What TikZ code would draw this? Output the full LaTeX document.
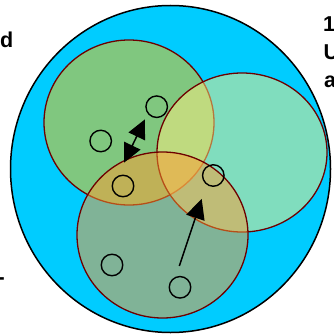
\documentclass[tikz,border=0pt]{standalone}
\usepackage{fontspec}
\setmainfont{Liberation Sans}
\usetikzlibrary{arrows.meta}
\definecolor{bgcyan}{HTML}{00CCFF}
\definecolor{fillA}{RGB}{255,196,0}
\definecolor{fillB}{RGB}{255,238,127}
\definecolor{fillC}{RGB}{255,156,49}
\definecolor{rim}{RGB}{110,0,0}
\begin{document}
\begin{tikzpicture}[x=1pt,y=-1pt,
  setcirc/.style={draw=rim, line width=1.3pt, fill opacity=0.5, draw opacity=1},
  elem/.style={circle, draw=black, line width=1.4pt, minimum size=21.5pt, inner sep=0pt},
  arr/.style={line width=1.5pt, draw=black},
  lbl/.style={font=\bfseries\fontsize{21.5}{26}\selectfont, inner sep=0pt}]
\useasboundingbox (0,0) rectangle (333,334);
\fill[white] (0,0) rectangle (333,334);
% universe
\draw[fill=bgcyan, line width=1.5pt] (170.5,169) ellipse [x radius=160, y radius=163.5];
% three sets
\draw[setcirc, fill=fillA] (129,122.5) ellipse [x radius=85, y radius=82.5];
\draw[setcirc, fill=fillB] (242,152.5) ellipse [x radius=85, y radius=79.5];
\draw[setcirc, fill=fillC] (162.5,235) ellipse [x radius=85.5, y radius=83];
% elements
\node[elem] (c1) at (156.7,106.7) {};
\node[elem] (c2) at (100.7,141) {};
\node[elem] (c3) at (123,186) {};
\node[elem] (c4) at (213.3,175.5) {};
\node[elem] (c5) at (112,265) {};
\node[elem] (c6) at (180,287.3) {};
% arrows
\coordinate (p1) at (124,162.7);
\coordinate (p2) at (145,119.3);
\coordinate (q1) at (179.3,266);
\coordinate (q2) at (201.7,198.8);
\draw[arr, {Triangle[length=19pt,width=18pt]}-{Triangle[length=19pt,width=18pt]}] (p1) -- (p2);
\draw[arr, -{Triangle[length=20pt,width=19pt]}] (q1) -- (q2);
% texts cut by the picture's edge, as in the reference
\node[lbl, anchor=base east] (tl) at (13.4,47.5) {d};
\node[lbl, anchor=base west] (r1) at (323,32) {1};
\node[lbl, anchor=base west] (r2) at (323.5,60) {U};
\node[lbl, anchor=base west] (r3) at (324,87.3) {a};
\node[lbl, anchor=base east] (bl) at (5,284.5) {-};
\end{tikzpicture}
\end{document}
